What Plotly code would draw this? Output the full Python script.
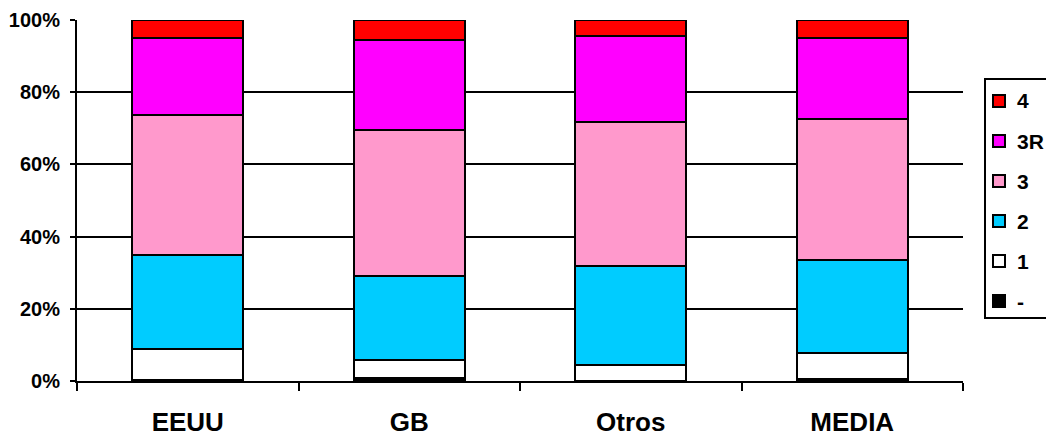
import plotly.graph_objects as go

categories = ["EEUU", "GB", "Otros", "MEDIA"]
series_names = ["-", "1", "2", "3", "3R", "4"]
v_dash = [0.3, 0.9, 0.1, 0.5]
v_1 = [8.6, 4.9, 4.3, 7.2]
v_2 = [26.0, 23.3, 27.5, 25.7]
v_3 = [38.9, 40.4, 39.8, 39.3]
v_3R = [21.3, 25.0, 23.9, 22.4]
v_4 = [4.9, 5.5, 4.4, 4.9]
y_ticks = [0, 20, 40, 60, 80, 100]
y_tick_labels = ["0%", "20%", "40%", "60%", "80%", "100%"]

values = [v_dash, v_1, v_2, v_3, v_3R, v_4]
colors = ["#000000", "#FFFFFF", "#00CCFF", "#FF99CC", "#FF00FF", "#FF0000"]

W, H = 1046, 436
L, R, T, B = 77, 83, 20, 55
PW, PH = W - L - R, H - T - B


def px_x(x):
    return (x - L) / PW


def px_y(y):
    return (H - B - y) / PH


fig = go.Figure()
for name, vals, col in zip(series_names, values, colors):
    fig.add_trace(go.Bar(
        x=categories, y=vals, name=name,
        marker=dict(color=col, line=dict(color="#000000", width=2)),
        width=0.5,
    ))

font_family = "Liberation Sans, Arial, sans-serif"

# manual legend (box, swatches, labels), top entry is the last series
shapes = [dict(type="rect", xref="paper", yref="paper",
               x0=px_x(985), x1=px_x(1300), y0=px_y(318), y1=px_y(79),
               line=dict(color="black", width=2), fillcolor="white", layer="above")]
annotations = []
for i, (name, col) in enumerate(zip(reversed(series_names), reversed(colors))):
    cy = 101 + 40 * i
    shapes.append(dict(type="rect", xref="paper", yref="paper",
                       x0=px_x(993), x1=px_x(1005), y0=px_y(cy + 6), y1=px_y(cy - 6),
                       line=dict(color="black", width=2), fillcolor=col, layer="above"))
    annotations.append(dict(xref="paper", yref="paper", x=px_x(1015), y=px_y(cy),
                            xanchor="left", yanchor="middle", text="<b>%s</b>" % name,
                            showarrow=False, font=dict(size=21, family=font_family, color="black")))

fig.update_layout(
    barmode="stack",
    width=W, height=H,
    margin=dict(l=L, r=R, t=T, b=B, autoexpand=False),
    plot_bgcolor="white", paper_bgcolor="white",
    font=dict(family=font_family, color="black"),
    showlegend=False,
    shapes=shapes,
    annotations=annotations,
    xaxis=dict(
        showline=True, linecolor="black", linewidth=2,
        ticks="outside", tickson="boundaries", ticklen=8, tickwidth=2, tickcolor="black",
        tickfont=dict(size=26, family=font_family, weight="bold"),
        ticklabelstandoff=17,
        showgrid=False,
    ),
    yaxis=dict(
        range=[0, 100], tickvals=y_ticks, ticktext=y_tick_labels,
        showline=True, linecolor="black", linewidth=2,
        ticks="outside", ticklen=5, tickwidth=2, tickcolor="black",
        showgrid=True, gridcolor="black", gridwidth=2,
        zeroline=False,
        ticklabelstandoff=6,
        tickfont=dict(size=20, family=font_family, weight="bold"),
    ),
)
fig.write_html("out.html", config={"displayModeBar": False},
               post_script="document.body.style.margin='0';")
